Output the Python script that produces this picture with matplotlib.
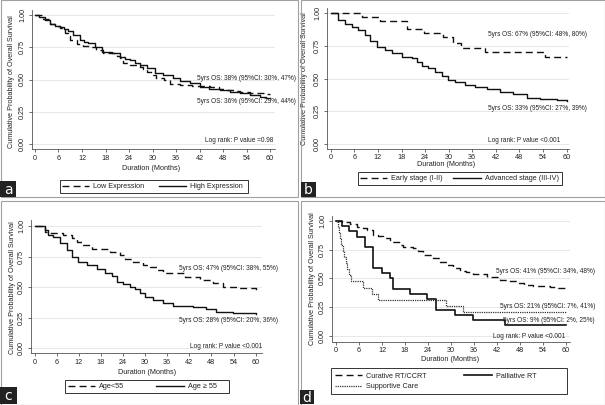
import matplotlib
matplotlib.use('Agg')
import matplotlib.pyplot as plt
from matplotlib.lines import Line2D
from matplotlib.patches import Rectangle

plt.rcParams['font.family'] = ['Liberation Sans', 'DejaVu Sans']

# ---------------- data ----------------
x_ticks = list(range(0, 61, 6))
y_ticks = [0.0, 0.25, 0.5, 0.75, 1.0]
y_ticklabels = ["0.00", "0.25", "0.50", "0.75", "1.00"]
y_title = "Cumulative Probability of Overall Survival"
x_title = "Duration (Months)"

# Panel a: expression
a_low_t = [0, 2, 3.8, 5, 6.4, 7.7, 8.5, 9.0, 10.6, 12.3, 14.5, 15.7, 17.4, 19.6, 21.0, 21.7, 22.5,
           24.3, 26.8, 27.5, 28.5, 30.0, 31.0, 33.0, 34.5, 37.0, 40.0, 44.7, 47.0, 48.9, 51.0,
           52.3, 55.0, 57.4, 59.0, 60]
a_low_s = [1.0, 0.97, 0.93, 0.915, 0.897, 0.86, 0.84, 0.806, 0.773, 0.76, 0.749, 0.729, 0.708,
           0.703, 0.68, 0.664, 0.625, 0.612, 0.60, 0.58, 0.56, 0.535, 0.515, 0.50, 0.465, 0.455,
           0.45, 0.44, 0.43, 0.419, 0.41, 0.40, 0.395, 0.393, 0.385, 0.385]
a_high_t = [0, 1, 2.55, 3.8, 5, 6.4, 7.5, 8.5, 9.8, 11.5, 12.5, 13.6, 15.3, 17, 19.6, 21.7, 23,
            24.3, 25.5, 26.8, 28.5, 30.6, 32.8, 35.3, 37, 39.5, 42.1, 44.5, 47.2, 49.9, 52.3, 55,
            57.4, 59, 60]
a_high_s = [1.0, 0.985, 0.961, 0.93, 0.915, 0.904, 0.89, 0.879, 0.845, 0.806, 0.79, 0.78, 0.755,
            0.716, 0.703, 0.677, 0.66, 0.651, 0.63, 0.612, 0.587, 0.548, 0.535, 0.509, 0.49, 0.47,
            0.444, 0.43, 0.419, 0.405, 0.393, 0.38, 0.367, 0.36, 0.354]
a_labels = ["Low Expression", "High Expression"]
a_notes = ["5yrs OS: 38% (95%CI: 30%, 47%)", "5yrs OS: 36% (95%CI: 29%, 44%)",
           "Log rank: P value =0.98"]

# Panel b: stage
b_early_t = [0, 7.9, 12.5, 19.3, 23.8, 28.6, 31.2, 33.2, 39.2, 54.5, 60]
b_early_s = [1.0, 0.974, 0.943, 0.88, 0.852, 0.82, 0.77, 0.732, 0.707, 0.663, 0.663]
b_adv_t = [0, 1.9, 3.6, 5.3, 7, 8.7, 10, 11.7, 13.8, 15.5, 18, 20.6, 21.9, 23.1, 24.8, 26.5, 28.2,
           29.9, 31.6, 34.1, 36.7, 39.7, 43, 46.4, 49.8, 53.2, 57.5, 60]
b_adv_s = [1.0, 0.949, 0.916, 0.898, 0.872, 0.834, 0.788, 0.745, 0.719, 0.694, 0.668, 0.656, 0.63,
           0.597, 0.579, 0.553, 0.523, 0.49, 0.477, 0.451, 0.438, 0.418, 0.40, 0.38, 0.35, 0.342,
           0.337, 0.33]
b_labels = ["Early stage (I-II)", "Advanced stage (III-IV)"]
b_notes = ["5yrs OS: 67% (95%CI: 48%, 80%)", "5yrs OS: 33% (95%CI: 27%, 39%)",
           "Log rank: P value <0.001"]

# Panel c: age
c_young_t = [0, 2.8, 4.2, 7.8, 10, 11.4, 13.2, 15.5, 20.5, 23.2, 24.5, 26.8, 29.5, 31.3, 33.1,
             34.9, 39.4, 40.7, 44.8, 48.4, 51.1, 55.6, 60]
c_young_s = [1.0, 0.953, 0.945, 0.926, 0.90, 0.872, 0.845, 0.81, 0.79, 0.763, 0.728, 0.708, 0.681,
             0.662, 0.64, 0.618, 0.613, 0.58, 0.559, 0.537, 0.504, 0.49, 0.47]
c_old_t = [0, 2.8, 3.7, 5.1, 6.9, 8.7, 10, 11.8, 14.1, 16.8, 19.1, 20.9, 22.3, 24.1, 25.9, 27.2,
           28.6, 30, 32.2, 34.9, 37.6, 43, 46.6, 49.3, 53.8, 60]
c_old_s = [1.0, 0.967, 0.926, 0.907, 0.858, 0.804, 0.744, 0.708, 0.681, 0.646, 0.613, 0.591,
           0.545, 0.526, 0.504, 0.482, 0.45, 0.422, 0.395, 0.373, 0.346, 0.335, 0.319, 0.30,
           0.29, 0.28]
c_labels = ["Age<55", "Age \u2265 55"]
c_notes = ["5yrs OS: 47% (95%CI: 38%, 55%)", "5yrs OS: 28% (95%CI: 20%, 36%)",
           "Log rank: P value <0.001"]

# Panel d: treatment
d_cur_t = [0, 1.5, 3.7, 5.4, 7, 8, 9.7, 11, 12.3, 14.1, 16.7, 17.6, 20.2, 21.5, 22.8, 25.4, 27.1,
           28.9, 30.6, 32.3, 34, 35.8, 39.3, 42.8, 45, 47.1, 49, 51.5, 55.8, 58, 60]
d_cur_s = [1.0, 0.99, 0.975, 0.95, 0.935, 0.922, 0.878, 0.87, 0.85, 0.82, 0.795, 0.777, 0.762,
           0.735, 0.705, 0.677, 0.646, 0.62, 0.588, 0.565, 0.555, 0.542, 0.513, 0.49, 0.475,
           0.461, 0.447, 0.438, 0.427, 0.418, 0.409]
d_pal_t = [0, 1.5, 3.5, 5.6, 7.6, 9.6, 11.9, 14.1, 15.0, 19.3, 23.7, 26.1, 31.0, 35.8, 44.1, 60]
d_pal_s = [1.0, 0.955, 0.909, 0.864, 0.773, 0.591, 0.545, 0.50, 0.409, 0.364, 0.318, 0.227,
           0.182, 0.136, 0.091, 0.091]
d_sup_t = [0, 0.5, 0.8, 1.0, 1.4, 1.8, 2.2, 2.6, 3.0, 3.3, 3.8, 7.1, 9.3, 10.9, 28.6, 33.2, 60]
d_sup_s = [1.0, 0.947, 0.895, 0.842, 0.789, 0.737, 0.684, 0.632, 0.579, 0.526, 0.474, 0.421,
           0.368, 0.316, 0.263, 0.211, 0.211]
d_labels = ["Curative RT/CCRT", "Palliative RT", "Supportive Care"]
d_notes = ["5yrs OS: 41% (95%CI: 34%, 48%)", "5yrs OS: 21% (95%CI: 7%, 41%)",
           "5yrs OS: 9% (95%CI: 2%, 25%)", "Log rank: P value <0.001"]

panel_letters = ["a", "b", "c", "d"]

# ---------------- figure ----------------
W, H = 605, 405
fig = plt.figure(figsize=(W / 100, H / 100), dpi=100)
fig.patch.set_facecolor('white')


def fx(x):
    return x / W


def fy(y):
    return 1 - y / H


TXT = 5.2
NOTE = 4.7
INK = '#111111'
LW = 1.0
DASH = (0, (5.0, 3.0))
DOT = (0, (1, 0.8))


def make_ax(left, right, top, bottom, xlim, ylim, xlab_xy, ylab_xy):
    ax = fig.add_axes([fx(left), fy(bottom), (right - left) / W, (bottom - top) / H])
    ax.set_xlim(*xlim)
    ax.set_ylim(*ylim)
    ax.set_xticks(x_ticks)
    ax.set_yticks(y_ticks)
    ax.set_yticklabels(y_ticklabels, rotation=90, va='center')
    for s in ['top', 'right']:
        ax.spines[s].set_visible(False)
    for s in ['left', 'bottom']:
        ax.spines[s].set_linewidth(0.6)
        ax.spines[s].set_color('#555555')
    ax.tick_params(direction='out', length=2.5, width=0.6, color='#555555',
                   labelsize=TXT, pad=1.5, labelcolor='#222222')
    ax.grid(axis='y', color='#e4e4e4', lw=0.6)
    ax.set_axisbelow(True)
    ax.set_xlabel(x_title, fontsize=TXT, color='#222222')
    ax.xaxis.set_label_coords(fx(xlab_xy[0]), fy(xlab_xy[1]), transform=fig.transFigure)
    ax.xaxis.label.set_va('center')
    ax.set_ylabel(y_title, fontsize=TXT, color='#222222')
    ax.yaxis.set_label_coords(fx(ylab_xy[0]), fy(ylab_xy[1]), transform=fig.transFigure)
    ax.yaxis.label.set_va('center')
    return ax


def notes(items):
    for s, x, y in items:
        fig.text(fx(x), fy(y), s, ha='right', va='center', fontsize=NOTE, color='#222222')


def legend(ax, handles, labels, x, y, ncol, colsp, box):
    lg = ax.legend(handles, labels, loc='center left', bbox_to_anchor=(fx(x), fy(y)),
                   bbox_transform=fig.transFigure, ncol=ncol, frameon=False, fontsize=TXT,
                   handlelength=3.8, handletextpad=0.55, columnspacing=colsp, borderpad=0,
                   borderaxespad=0, labelspacing=0.45)
    for t in lg.get_texts():
        t.set_color('#222222')
    x0, y0, x1, y1 = box
    fig.patches.append(Rectangle((fx(x0), fy(y1)), (x1 - x0) / W, (y1 - y0) / H,
                                 transform=fig.transFigure, fill=False, lw=0.7,
                                 edgecolor='#333333'))


def letter(s, x0, y0, x1, y1):
    fig.patches.append(Rectangle((fx(x0), fy(y1)), (x1 - x0) / W, (y1 - y0) / H,
                                 transform=fig.transFigure, facecolor='#222222',
                                 edgecolor='none'))
    fig.text(fx((x0 + x1) / 2), fy((y0 + y1) / 2 + 0.5), s, color='white', fontsize=10,
             ha='center', va='center', family='DejaVu Sans')


# panel frames
for (x0, y0, x1, y1) in [(0.5, 0.5, 297.5, 197.5), (300.5, 0.5, 604.5, 197.5),
                         (0.5, 200.5, 297.5, 404.5), (300.5, 200.5, 604.5, 404.5)]:
    fig.patches.append(Rectangle((fx(x0), fy(y1)), (x1 - x0) / W, (y1 - y0) / H,
                                 transform=fig.transFigure, fill=False, lw=0.8,
                                 edgecolor='#a0a0a0'))

# ---- a ----
axa = make_ax(31.7, 275, 10, 149, (-0.84, 61.27), (-0.039, 1.039), (151, 168.3), (11.7, 81.7))
la, = axa.step(a_low_t, a_low_s, where='post', color=INK, lw=LW, ls=DASH)
ha, = axa.step(a_high_t, a_high_s, where='post', color=INK, lw=LW)
notes([(a_notes[0], 296, 79), (a_notes[1], 296, 101.7), (a_notes[2], 273, 140)])
legend(axa, [la, ha], a_labels, 62, 186.8, 2, 2.0, (60, 180, 248, 193))
letter(panel_letters[0], 0, 181, 16, 197)

# ---- b ----
axb = make_ax(326.7, 569, 8, 149.3, (-1.02, 60.59), (-0.041, 1.041), (445.7, 164), (305, 78.3))
axb.tick_params(axis='x', pad=1.0)
lb, = axb.step(b_early_t, b_early_s, where='post', color=INK, lw=LW, ls=DASH)
hb, = axb.step(b_adv_t, b_adv_s, where='post', color=INK, lw=LW)
notes([(b_notes[0], 587, 35), (b_notes[1], 587, 108), (b_notes[2], 560, 140.7)])
legend(axb, [lb, hb], b_labels, 360, 178.8, 2, 1.4, (358, 172, 562, 185))
letter(panel_letters[1], 301, 182, 316, 197)

# ---- c ----
axc = make_ax(30.7, 261.7, 220, 353, (-1.09, 61.64), (-0.038, 1.049), (146.7, 372.7),
              (12.7, 287.3))
lc, = axc.step(c_young_t, c_young_s, where='post', color=INK, lw=LW, ls=DASH)
hc, = axc.step(c_old_t, c_old_s, where='post', color=INK, lw=LW)
notes([(c_notes[0], 278, 269), (c_notes[1], 278, 320.7), (c_notes[2], 262, 346)])
legend(axc, [lc, hc], c_labels, 68, 386.8, 2, 4.4, (65, 380, 229, 393))
letter(panel_letters[2], 0, 387, 17, 404)

# ---- d ----
axd = make_ax(331.7, 570, 216, 341.7, (-1.12, 61.05), (-0.05, 1.043), (450, 359.3),
              (312.7, 278.3))
ld, = axd.step(d_cur_t, d_cur_s, where='post', color=INK, lw=LW, ls=DASH)
pd_, = axd.step(d_pal_t, d_pal_s, where='post', color=INK, lw=1.2)
sd, = axd.step(d_sup_t, d_sup_s, where='post', color='#333333', lw=0.9, ls=DOT)
notes([(d_notes[0], 595, 271.7), (d_notes[1], 595, 306.7), (d_notes[2], 595, 320),
       (d_notes[3], 565, 336.7)])
legend(axd, [ld, sd, pd_], [d_labels[0], d_labels[2], d_labels[1]], 335, 381.5, 2, 5.2,
       (331, 368, 567, 394))
letter(panel_letters[3], 300, 390, 314, 404)

fig.savefig('out.png', dpi=100, facecolor='white')
